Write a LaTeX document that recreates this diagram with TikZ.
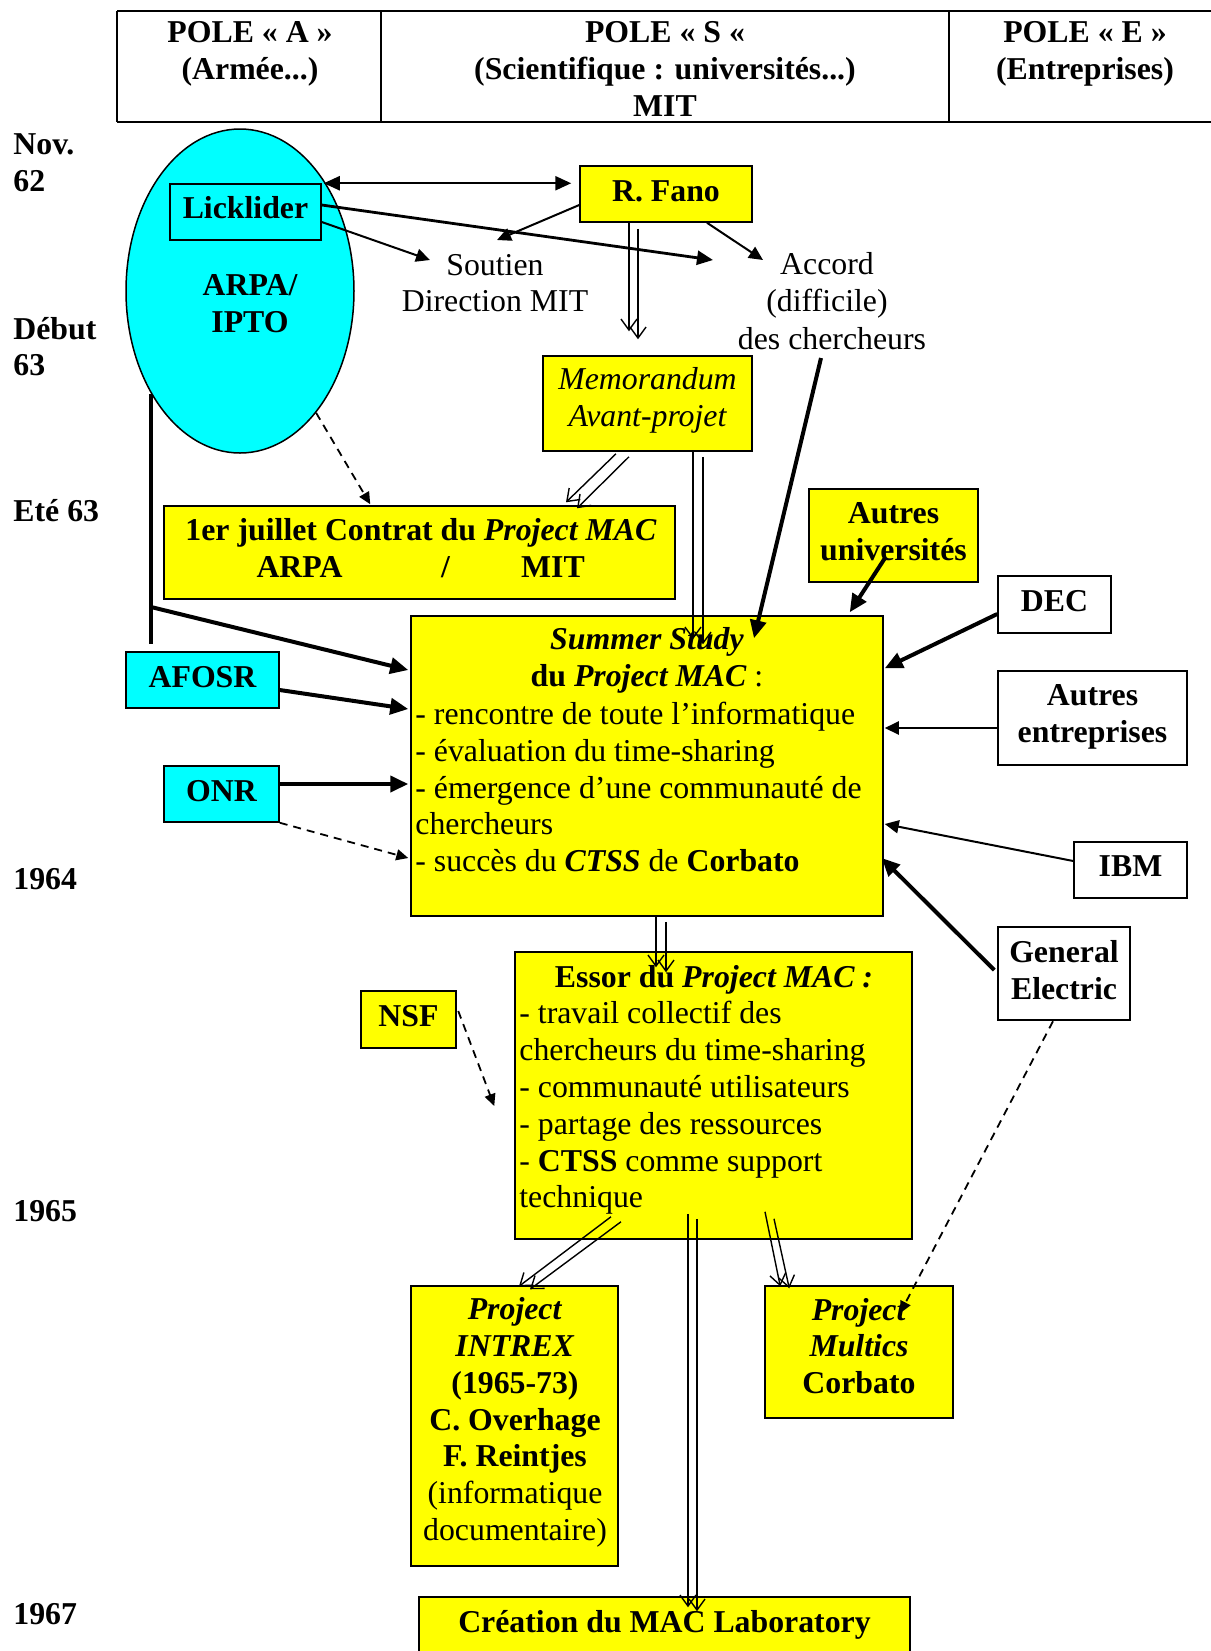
\documentclass[tikz,border=0pt]{standalone}
\usepackage{fontspec}
\setmainfont{Liberation Serif}
\usetikzlibrary{arrows.meta,shapes.geometric,calc}
\newcommand\myfs{\fontsize{15.9pt}{18.4pt}\selectfont}
\definecolor{cy}{RGB}{0,255,255}
\definecolor{yl}{RGB}{255,255,0}
\begin{document}
\begin{tikzpicture}[x=0.5pt,y=-0.5pt,
  bx/.style 2 args={draw, line width=0.75pt, inner sep=0pt, minimum width=#1*0.5pt, minimum height=#2*0.5pt},
  yb/.style={fill=yl}, cb/.style={fill=cy}, wb/.style={fill=white},
  tx/.style={inner sep=0pt, font=\myfs, align=center},
  bt/.style={inner sep=0pt, font=\myfs\bfseries, align=center},
  thk/.style={line width=2pt, -{Triangle[length=9pt,width=8pt]}},
  med/.style={line width=1pt, -{Triangle[length=7pt,width=6.5pt]}},
  dsh/.style={line width=0.9pt, dash pattern=on 4pt off 3pt, -{Triangle[length=6pt,width=5.5pt]}},
  dbl/.style={line width=0.7pt, -{Straight Barb[length=5.5pt,width=8pt]}}
]
\useasboundingbox (0,0) rectangle (1211,1651);
% header table
\draw[line width=1.2pt] (117,11) -- (1211,11) (117,122) -- (1211,122)
  (117,11) -- (117,122) (381,11) -- (381,122) (949,11) -- (949,122);
\node[bt] (hA) at (250,54) {POLE~«~A~»\\(Armée...)};
\node[bt] (hS) at (665,69) {POLE~«~S~«\\(Scientifique : universités...)\\MIT};
\node[bt] (hE) at (1085,54) {POLE~«~E~»\\(Entreprises)};
% dates
\node[bt, align=left, anchor=west] (d62) at (13,162.5) {Nov.\\62};
\node[bt, align=left, anchor=west] (d63) at (13,346.5) {Début\\63};
\node[bt, anchor=west] (dete) at (13,511) {Eté 63};
\node[bt, anchor=west] (d64) at (13,879) {1964};
\node[bt, anchor=west] (d65) at (13,1211) {1965};
\node[bt, anchor=west] (d67) at (13,1614) {1967};
% ARPA ellipse
\node[ellipse, draw, line width=0.75pt, fill=cy, inner sep=0pt, minimum width=228*0.5pt, minimum height=324*0.5pt] (arpa) at (240,291) {};
\node[bt] (arpaT) at (250,304) {ARPA/\\IPTO};
\node[bx={151}{56}, cb] (lick) at (245.5,212) {};
\node[bt] (lickT) at (245.5,208) {Licklider};
% Fano
\node[bx={172}{56}, yb] (fano) at (666,194) {};
\node[bt] (fanoT) at (666,191) {R. Fano};
\node[tx] (soutA) at (495,265) {Soutien};
\node[tx] (soutB) at (495,301) {Direction MIT};
\node[tx] (accA) at (827,264) {Accord};
\node[tx] (accB) at (827,304) {(difficile)};
\node[tx] (accC) at (832,339) {des chercheurs};
% Memorandum
\node[bx={209}{95}, yb] (memo) at (647.5,403.5) {};
\node[tx, font=\myfs\itshape] (memoT) at (647.5,400.5) {Memorandum\\Avant-projet};
% Contrat
\node[bx={511}{93}, yb] (contrat) at (419.5,552.5) {};
\node[bt] (contT) at (421,533) {1er juillet Contrat du \textit{Project MAC}};
\node[bt] (contA) at (299.5,567) {ARPA};
\node[bt] (contS) at (445.5,567) {/};
\node[bt] (contM) at (553,567) {MIT};
% right column
\node[bx={169}{93}, yb] (autu) at (893.5,535.5) {};
\node[bt] (autuT) at (893.5,532) {Autres\\universités};
\node[bx={113}{57}, wb] (dec) at (1054.5,604.5) {};
\node[bt] (decT) at (1054.5,601) {DEC};
\node[bx={189}{94}, wb] (autent) at (1092.5,718) {};
\node[bt] (autentT) at (1092.5,717) {Autres\\entreprises};
\node[bx={113}{56}, wb] (ibm) at (1130.5,870) {};
\node[bt] (ibmT) at (1130.5,866) {IBM};
\node[bx={132}{93}, wb] (ge) at (1064,973.5) {};
\node[bt] (geT) at (1064,970) {General\\Electric};
% Summer study
\node[bx={472}{300}, yb] (sum) at (647,766) {};
\node[bt] (sumT1) at (647,660) {\textit{Summer Study}\\du \textit{Project MAC} {\mdseries\upshape :}};
\node[tx, align=left, anchor=west] (sumT2) at (415,787) {- rencontre de toute l’informatique\\- évaluation du time-sharing\\- émergence d’une communauté de\\chercheurs\\- succès du \textbf{\textit{CTSS}} de \textbf{Corbato}};
% AFOSR ONR
\node[bx={153}{56}, cb] (afosr) at (202.5,680) {};
\node[bt] (afosrT) at (202.5,677) {AFOSR};
\node[bx={115}{56}, cb] (onr) at (221.5,794) {};
\node[bt] (onrT) at (221.5,791) {ONR};
% Essor
\node[bx={397}{287}, yb] (essor) at (713.5,1095.5) {};
\node[bt] (essT1) at (714,980) {Essor du \textit{Project MAC :}};
\node[tx, align=left, anchor=west] (essT2) at (519,1108) {- travail collectif des\\chercheurs du time-sharing\\- communauté utilisateurs\\- partage des ressources\\- \textbf{CTSS} comme support\\technique};
\node[bx={95}{57}, yb] (nsf) at (408.5,1019.5) {};
\node[bt] (nsfT) at (408.5,1016) {NSF};
% bottom
\node[bx={207}{280}, yb] (intrex) at (514.5,1426) {};
\node[tx] (intrexT) at (515,1422.5) {\textbf{\textit{Project}}\\\textbf{\textit{INTREX}}\\\textbf{(1965-73)}\\\textbf{C. Overhage}\\\textbf{F. Reintjes}\\(informatique\\documentaire)};
\node[bx={188}{132}, yb] (mult) at (859,1352) {};
\node[bt] (multT) at (859,1346) {\textit{Project}\\\textit{Multics}\\Corbato};
\node[bx={491}{120}, yb] (maclab) at (664.5,1657) {};
\node[bt] (maclabT) at (664.5,1625) {Création du MAC Laboratory};
% connectors
\draw[line width=1.2pt, {Triangle[length=8pt,width=7pt]}-{Triangle[length=8pt,width=7pt]}, shorten <=1pt, shorten >=4pt] (lick.north east) -- (fano.west |- lick.north east);
\draw[med] ($(lick.east)+(0,10)$) -- ($(soutA.center)+(-65,-5)$);
\draw[line width=1.4pt, -{Triangle[length=8pt,width=7pt]}] ($(lick.east)+(0,-7)$) -- ($(accA.center)+(-114,-4)$);
\draw[med] ($(fano.west)+(0,11)$) -- ($(soutA.center)+(2,-25)$);
\draw[med] ($(fano.south)+(41,0)$) -- ($(accA.center)+(-64,-4)$);
\draw[dbl] ($(fano.south)+(-37,0)$) -- ($(memo.north)+(-18.5,-24)$);
\draw[dbl] ($(fano.south)+(-28,6)$) -- ($(memo.north)+(-9.5,-16)$);
\draw[dbl] ($(memo.south)+(-31.5,2)$) -- ($(contrat.north)+(146.5,-3)$);
\draw[dbl] ($(memo.south)+(-18.5,5)$) -- ($(contrat.north)+(157.5,3)$);
\draw[dbl] ($(memo.south)+(45.5,0)$) -- ($(sum.north)+(46,24)$);
\draw[dbl] ($(memo.south)+(55.5,5)$) -- ($(sum.north)+(56,29)$);
\draw[thk] ($(accC.center)+(-11,19)$) -- ($(sum.north)+(107,23)$);
\draw[thk] ($(autu.center)+(-8.5,22.5)$) -- ($(sum.north east)+(-34,-3)$);
\draw[thk] ($(dec.west)+(0,9.5)$) -- ($(sum.north east)+(1,53)$);
\draw[med] ($(autent.west)+(0,10)$) -- ($(sum.east)+(1,-38)$);
\draw[med] ($(ibm.west)+(0,-9)$) -- ($(sum.east)+(1,58)$);
\draw[thk] ($(ge.west)+(-3,-3.5)$) -- ($(sum.east)+(-2,92)$);
\coordinate (vtop) at ($(arpa.center)+(-89,103)$);
\coordinate (vbot) at (151,644);
\coordinate (vbr) at (151,607);
\draw[line width=2pt] (vtop) -- (vbot);
\draw[thk] (vbr) -- ($(sum.west)+(-2,-96)$);
\draw[thk] ($(afosr.east)+(0,10)$) -- ($(sum.west)+(-2,-57)$);
\draw[thk] ($(onr.east)+(0,-10)$) -- ($(sum.west)+(-2,18)$);
\draw[dsh] (onr.south east) -- ($(sum.west)+(-2,92)$);
\draw[dsh] (arpa.302) -- ($(contrat.north west)+(207,-1)$);
\draw[dbl] ($(sum.south)+(9,0)$) -- ($(essor.north)+(-57.5,16)$);
\draw[dbl] ($(sum.south)+(19,5)$) -- ($(essor.north)+(-47.5,21)$);
\draw[dsh] ($(nsf.east)+(1.5,-8.5)$) -- ($(essor.west)+(-20,10.5)$);
\draw[dbl] ($(essor.south)+(-102.5,-23)$) -- ($(intrex.north)+(4.5,1)$);
\draw[dbl] ($(essor.south)+(-92.5,-18)$) -- ($(intrex.north)+(15.5,4)$);
\draw[dbl] ($(essor.south)+(-25.5,-26)$) -- ($(maclab.north)+(23.5,11)$);
\draw[dbl] ($(essor.south)+(-16.5,-21)$) -- ($(maclab.north)+(32.5,15)$);
\draw[dbl] ($(essor.south)+(51.5,-28)$) -- ($(mult.north west)+(16,1)$);
\draw[dbl] ($(essor.south)+(60.5,-21)$) -- ($(mult.north west)+(25,3)$);
\draw[dsh] ($(ge.south)+(-11,0.5)$) -- ($(mult.north)+(41,28)$);
\end{tikzpicture}
\end{document}
